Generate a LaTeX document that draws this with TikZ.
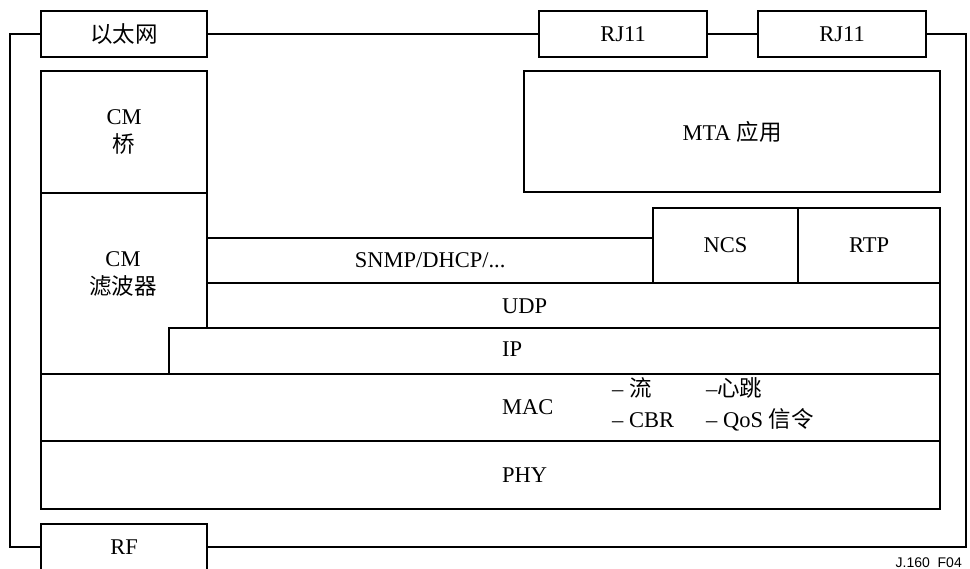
\documentclass[tikz,border=0pt]{standalone}
\usepackage{fontspec}
\setmainfont{Liberation Serif}
\newfontfamily\cjk{Noto Sans CJK SC}
\newfontfamily\labfont{Liberation Sans}
\newcommand{\zh}[1]{{\cjk #1}}
\begin{document}
\begin{tikzpicture}[x=1pt,y=-1pt,
  box/.style={draw, line width=2.2pt, fill=white, inner sep=0pt, anchor=north west, align=center,
              font=\fontsize{22.5}{28}\selectfont},
  lbl/.style={inner sep=0pt, font=\fontsize{22.5}{28}\selectfont, align=center},
  wire/.style={line width=2.2pt}]
\useasboundingbox (0,0) rectangle (970,569);
% interface boxes
\node[box, minimum width=166pt, minimum height=46pt] (eth) at (40,10) {\zh{以太网}};
\node[box, minimum width=168pt, minimum height=46pt] (rj1) at (538,10) {RJ11};
\node[box, minimum width=168pt, minimum height=46pt] (rj2) at (757,10) {RJ11};
\node[box, minimum width=166pt, minimum height=46pt] (rf) at (40,523) {RF};
\coordinate (rc) at (966,300);
% wires
\draw[wire] (eth.west) -| ([xshift=-30pt]rf.west) -- (rf.west);
\draw[wire] (eth.east) -- (rj1.west);
\draw[wire] (rj1.east) -- (rj2.west);
\draw[wire] (rj2.east) -| (rc) |- (rf.east);
% stack
\node[box, minimum width=166pt, minimum height=122pt] (bridge) at (40,70) {CM\\\zh{桥}};
\node[box, minimum width=416pt, minimum height=121pt] (mta) at (523,70) {MTA \zh{应用}};
\node[box, minimum width=166pt, minimum height=181pt] (filter) at (40,192) {};
\node[lbl] (filtert) at (123,274) {CM\\\zh{滤波器}};
\node[box, minimum width=446pt, minimum height=45pt] (snmp) at (206,237) {SNMP/DHCP/...};
\node[box, minimum width=145pt, minimum height=75pt] (ncs) at (652,207) {NCS};
\node[box, minimum width=142pt, minimum height=75pt] (rtp) at (797,207) {RTP};
\node[box, minimum width=733pt, minimum height=45pt] (udp) at (206,282) {};
\node[lbl, anchor=west] (udpt) at (502,306) {UDP};
\node[box, minimum width=771pt, minimum height=46pt] (ip) at (168,327) {};
\node[lbl, anchor=west] (ipt) at (502,349) {IP};
\node[box, minimum width=899pt, minimum height=67pt] (mac) at (40,373) {};
\node[lbl, anchor=west] (mact) at (502,407) {MAC};
\node[lbl, anchor=west] (m1) at (612,388) {– \zh{流}};
\node[lbl, anchor=west] (m2) at (706,388) {–\zh{心跳}};
\node[lbl, anchor=west] (m3) at (612,420) {– CBR};
\node[lbl, anchor=west] (m4) at (706,420) {– QoS \zh{信令}};
\node[box, minimum width=899pt, minimum height=68pt] (phy) at (40,440) {};
\node[lbl, anchor=west] (phyt) at (502,475) {PHY};
% figure id
\node[inner sep=0pt, anchor=south east, font=\labfont\fontsize{14}{16}\selectfont] (fig) at (962,568) {J.160\ \ F04};
\end{tikzpicture}
\end{document}
